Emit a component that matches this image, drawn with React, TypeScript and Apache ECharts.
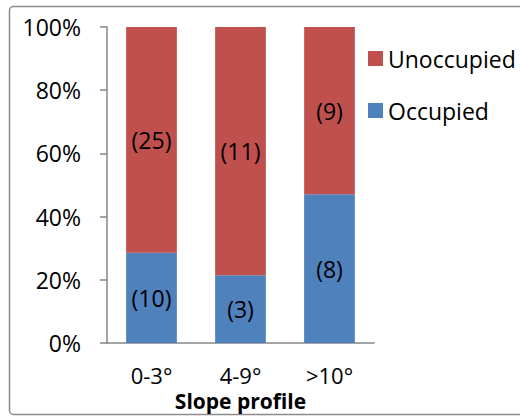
import React, { useEffect, useRef } from "react";
import * as echarts from "echarts";

const categories = ["0-3°", "4-9°", ">10°"];
const occupied = [10, 3, 8];
const unoccupied = [25, 11, 9];
const yTicks = [0, 20, 40, 60, 80, 100];

const FONT = "'Open Sans', sans-serif";

export default function App() {
  const ref = useRef<HTMLDivElement>(null);
  useEffect(() => {
    document.body.style.margin = "0";
    const chart = echarts.init(ref.current!, undefined, { renderer: "svg" });
    const totals = occupied.map((v, i) => v + unoccupied[i]);
    const occPct = occupied.map((v, i) => ({ value: (v / totals[i]) * 100, count: v }));
    const unPct = unoccupied.map((v, i) => ({ value: (v / totals[i]) * 100, count: v }));
    const label = {
      show: true,
      position: "inside",
      color: "#000",
      fontSize: 23,
      fontFamily: FONT,
      formatter: (p: any) => `(${p.data.count})`,
    };
    chart.setOption({
      animation: false,
      graphic: [
        {
          type: "rect",
          shape: { x: 9.5, y: 6.5, width: 530, height: 408, r: 4 },
          style: { fill: "none", stroke: "#8c8c8c", lineWidth: 1.5 },
        },
      ],
      grid: { left: 107, top: 27, width: 267, height: 316 },
      legend: {
        orient: "vertical",
        left: 363,
        top: 42,
        itemWidth: 15,
        itemHeight: 15,
        itemGap: 29,
        icon: "rect",
        data: ["Unoccupied", "Occupied"],
        textStyle: { fontSize: 23, fontFamily: FONT, color: "#000" },
      },
      xAxis: {
        type: "category",
        data: categories,
        name: "Slope profile",
        nameLocation: "middle",
        nameGap: 45,
        nameTextStyle: { fontSize: 21, fontWeight: "bold", fontFamily: FONT, color: "#000", lineHeight: 21 },
        axisLine: { lineStyle: { color: "#868686", width: 1.5 } },
        axisTick: { show: false },
        axisLabel: { fontSize: 22, fontFamily: FONT, color: "#000", margin: 21, lineHeight: 22 },
      },
      yAxis: {
        type: "value",
        min: 0,
        max: 100,
        interval: 20,
        axisLine: { show: true, lineStyle: { color: "#868686", width: 1.5 } },
        axisTick: { show: true, length: 7, lineStyle: { color: "#868686", width: 1.5 } },
        splitLine: { show: false },
        axisLabel: {
          fontSize: 23,
          fontFamily: FONT,
          color: "#000",
          margin: 26,
          formatter: (v: number) => (yTicks.includes(v) ? `${v}%` : ""),
        },
      },
      series: [
        {
          name: "Occupied",
          type: "bar",
          stack: "s",
          barWidth: "57%",
          data: occPct,
          itemStyle: { color: "#4F81BD" },
          label,
        },
        {
          name: "Unoccupied",
          type: "bar",
          stack: "s",
          barWidth: "57%",
          data: unPct,
          itemStyle: { color: "#C0504D" },
          label,
        },
      ],
    });
    return () => chart.dispose();
  }, []);
  return <div ref={ref} style={{ width: 520, height: 417 }} />;
}
